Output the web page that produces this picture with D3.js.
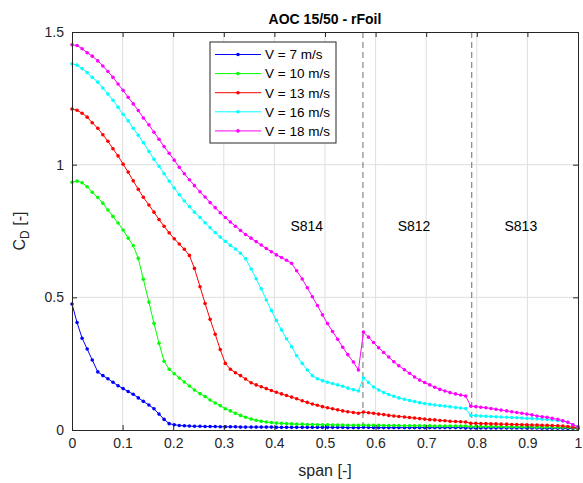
<!DOCTYPE html>
<html>
<head>
<meta charset="utf-8">
<script src="https://cdn.jsdelivr.net/npm/d3@7"></script>
<style>
  body { margin: 0; background: #fff; }
  text { font-family: "Liberation Sans", Arial, sans-serif; fill: #262626; }
</style>
</head>
<body>
<svg id="chart" width="583" height="483"></svg>
<script>
// span positions (100 stations, 0..1)
const span = [
  0.000,0.010,0.020,0.030,0.040,0.051,0.061,0.071,0.081,0.091,
  0.101,0.111,0.121,0.131,0.141,0.152,0.162,0.172,0.182,0.192,
  0.202,0.212,0.222,0.232,0.242,0.253,0.263,0.273,0.283,0.293,
  0.303,0.313,0.323,0.333,0.343,0.354,0.364,0.374,0.384,0.394,
  0.404,0.414,0.424,0.434,0.444,0.455,0.465,0.475,0.485,0.495,
  0.505,0.515,0.525,0.535,0.545,0.556,0.566,0.576,0.586,0.596,
  0.606,0.616,0.626,0.636,0.646,0.657,0.667,0.677,0.687,0.697,
  0.707,0.717,0.727,0.737,0.747,0.758,0.768,0.778,0.788,0.798,
  0.808,0.818,0.828,0.838,0.848,0.859,0.869,0.879,0.889,0.899,
  0.909,0.919,0.929,0.939,0.949,0.960,0.970,0.980,0.990,1.000
];

const cd7 = [
  0.475,0.405,0.346,0.305,0.264,0.219,0.205,0.193,0.180,0.167,
  0.156,0.145,0.135,0.121,0.108,0.094,0.080,0.060,0.040,0.024,
  0.020,0.017,0.016,0.015,0.014,0.014,0.013,0.013,0.013,0.012,
  0.012,0.012,0.012,0.011,0.011,0.011,0.011,0.011,0.011,0.011,
  0.010,0.010,0.010,0.010,0.010,0.010,0.010,0.010,0.010,0.010,
  0.010,0.010,0.010,0.010,0.009,0.009,0.009,0.010,0.010,0.009,
  0.009,0.009,0.009,0.009,0.009,0.009,0.009,0.009,0.009,0.009,
  0.009,0.009,0.009,0.009,0.009,0.009,0.009,0.008,0.008,0.008,
  0.008,0.008,0.008,0.008,0.008,0.008,0.008,0.008,0.008,0.008,
  0.008,0.008,0.007,0.007,0.007,0.007,0.007,0.006,0.006,0.006
];

const cd10 = [
  0.934,0.938,0.932,0.917,0.896,0.876,0.855,0.829,0.805,0.780,
  0.754,0.723,0.695,0.647,0.568,0.482,0.402,0.327,0.259,0.229,
  0.212,0.196,0.181,0.166,0.151,0.137,0.126,0.113,0.102,0.092,
  0.080,0.072,0.063,0.055,0.048,0.041,0.037,0.033,0.030,0.028,
  0.026,0.025,0.024,0.023,0.022,0.022,0.021,0.021,0.020,0.020,
  0.020,0.019,0.019,0.019,0.018,0.018,0.018,0.019,0.018,0.018,
  0.018,0.017,0.017,0.017,0.017,0.016,0.016,0.016,0.016,0.016,
  0.016,0.015,0.015,0.015,0.015,0.015,0.015,0.015,0.013,0.013,
  0.013,0.013,0.013,0.013,0.013,0.012,0.012,0.012,0.012,0.012,
  0.012,0.011,0.011,0.011,0.011,0.010,0.010,0.009,0.008,0.007
];

const cd13 = [
  1.210,1.205,1.194,1.179,1.158,1.137,1.113,1.088,1.060,1.033,
  1.002,0.972,0.939,0.907,0.877,0.848,0.821,0.793,0.768,0.743,
  0.721,0.701,0.681,0.658,0.609,0.540,0.477,0.417,0.361,0.303,
  0.251,0.229,0.216,0.205,0.192,0.178,0.170,0.163,0.156,0.149,
  0.142,0.136,0.130,0.124,0.118,0.110,0.104,0.098,0.093,0.088,
  0.084,0.080,0.076,0.072,0.069,0.066,0.063,0.068,0.065,0.063,
  0.060,0.058,0.055,0.053,0.051,0.049,0.047,0.045,0.043,0.041,
  0.039,0.038,0.036,0.035,0.033,0.032,0.031,0.030,0.025,0.025,
  0.024,0.024,0.023,0.023,0.022,0.022,0.021,0.021,0.020,0.020,
  0.019,0.019,0.018,0.018,0.017,0.016,0.015,0.013,0.011,0.008
];

const cd16 = [
  1.380,1.375,1.362,1.347,1.329,1.311,1.289,1.266,1.243,1.216,
  1.190,1.165,1.137,1.111,1.083,1.050,1.020,0.994,0.966,0.938,
  0.912,0.887,0.863,0.842,0.821,0.801,0.781,0.762,0.744,0.727,
  0.711,0.696,0.682,0.666,0.646,0.607,0.570,0.532,0.490,0.450,
  0.413,0.377,0.344,0.314,0.280,0.251,0.226,0.205,0.193,0.186,
  0.180,0.175,0.170,0.165,0.158,0.152,0.147,0.196,0.179,0.162,
  0.151,0.141,0.134,0.127,0.121,0.116,0.111,0.107,0.103,0.100,
  0.097,0.094,0.092,0.090,0.088,0.085,0.083,0.081,0.055,0.054,
  0.053,0.052,0.051,0.050,0.049,0.048,0.047,0.046,0.045,0.044,
  0.043,0.042,0.041,0.040,0.038,0.036,0.034,0.029,0.020,0.012
];

const cd18 = [
  1.452,1.449,1.437,1.422,1.409,1.391,1.372,1.351,1.329,1.304,
  1.280,1.254,1.229,1.204,1.176,1.150,1.122,1.096,1.068,1.043,
  1.017,0.990,0.966,0.943,0.921,0.898,0.878,0.857,0.838,0.819,
  0.801,0.784,0.768,0.752,0.737,0.723,0.710,0.697,0.684,0.672,
  0.660,0.650,0.640,0.628,0.600,0.569,0.536,0.502,0.469,0.434,
  0.401,0.371,0.342,0.312,0.284,0.256,0.226,0.369,0.350,0.330,
  0.310,0.292,0.275,0.257,0.242,0.227,0.214,0.200,0.188,0.179,
  0.170,0.161,0.153,0.147,0.141,0.136,0.132,0.128,0.090,0.088,
  0.086,0.084,0.081,0.078,0.075,0.072,0.069,0.066,0.063,0.060,
  0.057,0.053,0.050,0.048,0.044,0.040,0.035,0.029,0.020,0.012
];

const labels = ['V = 7 m/s', 'V = 10 m/s', 'V = 13 m/s', 'V = 16 m/s', 'V = 18 m/s'];
const colors = ['#0000ff', '#00ff00', '#ff0000', '#00ffff', '#ff00ff'];
const xTicks = [0, 0.1, 0.2, 0.3, 0.4, 0.5, 0.6, 0.7, 0.8, 0.9, 1];
const yTicks = [0, 0.5, 1, 1.5];

// airfoil sections
const sectionBounds = [0.575, 0.79];
const sectionNames = ['S814', 'S812', 'S813'];
const sectionX = [0.464, 0.676, 0.887];
const sectionY = 0.75;

const series = [cd7, cd10, cd13, cd16, cd18].map((vals, i) => ({
  label: labels[i],
  color: colors[i],
  points: vals.map((v, j) => [span[j], v])
}));

const W = 583, H = 483;
const margin = { top: 32, right: 5, bottom: 53, left: 72 };
const iw = W - margin.left - margin.right;
const ih = H - margin.top - margin.bottom;

const svg = d3.select('#chart');
const g = svg.append('g').attr('transform', `translate(${margin.left},${margin.top})`);

const x = d3.scaleLinear().domain([0, 1]).range([0, iw]);
const y = d3.scaleLinear().domain([0, 1.5]).range([ih, 0]);

// === grid ===
g.append('g').selectAll('line').data(xTicks.slice(1, -1)).join('line')
  .attr('x1', d => x(d)).attr('x2', d => x(d))
  .attr('y1', 0).attr('y2', ih)
  .attr('stroke', '#dfdfdf').attr('stroke-width', 1);
g.append('g').selectAll('line').data(yTicks.slice(1, -1)).join('line')
  .attr('y1', d => y(d)).attr('y2', d => y(d))
  .attr('x1', 0).attr('x2', iw)
  .attr('stroke', '#dfdfdf').attr('stroke-width', 1);

// === section boundaries ===
g.append('g').selectAll('line').data(sectionBounds).join('line')
  .attr('x1', d => x(d)).attr('x2', d => x(d))
  .attr('y1', 0).attr('y2', ih)
  .attr('stroke', '#6e6e6e').attr('stroke-width', 1)
  .attr('stroke-dasharray', '6,4');

g.append('g').selectAll('text').data(sectionNames).join('text')
  .attr('x', (d, i) => x(sectionX[i]))
  .attr('y', y(sectionY))
  .attr('text-anchor', 'middle')
  .style('font-size', '14px')
  .style('fill', '#000')
  .text(d => d);

// === series ===
const line = d3.line().x(d => x(d[0])).y(d => y(d[1]));
series.forEach(s => {
  const sg = g.append('g');
  sg.append('path')
    .datum(s.points)
    .attr('d', line)
    .attr('fill', 'none')
    .attr('stroke', s.color)
    .attr('stroke-width', 1);
  sg.selectAll('circle').data(s.points).join('circle')
    .attr('cx', d => x(d[0]))
    .attr('cy', d => y(d[1]))
    .attr('r', 1.8)
    .attr('fill', s.color);
});

// === axes (ticks inside, box on) ===
const fmt = d => String(d);
const axB = g.append('g').attr('transform', `translate(0,${ih})`)
  .call(d3.axisBottom(x).tickValues(xTicks).tickFormat(fmt).tickSize(-5).tickPadding(8));
const axL = g.append('g')
  .call(d3.axisLeft(y).tickValues(yTicks).tickFormat(fmt).tickSize(-5).tickPadding(8));
const axT = g.append('g')
  .call(d3.axisTop(x).tickValues(xTicks).tickFormat('').tickSize(-5));
const axR = g.append('g').attr('transform', `translate(${iw},0)`)
  .call(d3.axisRight(y).tickValues(yTicks).tickFormat('').tickSize(-5));

[axB, axL, axT, axR].forEach(a => {
  a.select('.domain').attr('stroke', '#262626').attr('stroke-width', 1);
  a.selectAll('.tick line').attr('stroke', '#262626');
  a.selectAll('.tick text').style('font-size', '14px').style('fill', '#262626');
});

// === labels ===
svg.append('text')
  .attr('x', margin.left + iw / 2).attr('y', 24)
  .attr('text-anchor', 'middle')
  .style('font-size', '14px').style('font-weight', 'bold').style('fill', '#000')
  .text('AOC 15/50 - rFoil');

svg.append('text')
  .attr('x', margin.left + iw / 2).attr('y', 476)
  .attr('text-anchor', 'middle')
  .style('font-size', '16px')
  .text('span [-]');

const yl = svg.append('text')
  .attr('transform', `translate(25,${margin.top + ih / 2}) rotate(-90)`)
  .attr('text-anchor', 'middle')
  .style('font-size', '16px');
yl.append('tspan').text('C');
yl.append('tspan').attr('dy', 4).style('font-size', '12px').text('D');
yl.append('tspan').attr('dy', -4).text(' [-]');

// === legend ===
const lg = svg.append('g').attr('transform', 'translate(210,42)');
lg.append('rect')
  .attr('width', 126).attr('height', 101)
  .attr('fill', '#fff').attr('stroke', '#262626').attr('stroke-width', 1);
series.forEach((s, i) => {
  const ry = 12.5 + i * 19.1;
  lg.append('line')
    .attr('x1', 5).attr('x2', 51).attr('y1', ry).attr('y2', ry)
    .attr('stroke', s.color).attr('stroke-width', 1);
  lg.append('circle').attr('cx', 28).attr('cy', ry).attr('r', 1.8).attr('fill', s.color);
  lg.append('text')
    .attr('x', 55).attr('y', ry + 4.8)
    .style('font-size', '13.5px').style('fill', '#000')
    .text(s.label);
});
</script>
</body>
</html>
